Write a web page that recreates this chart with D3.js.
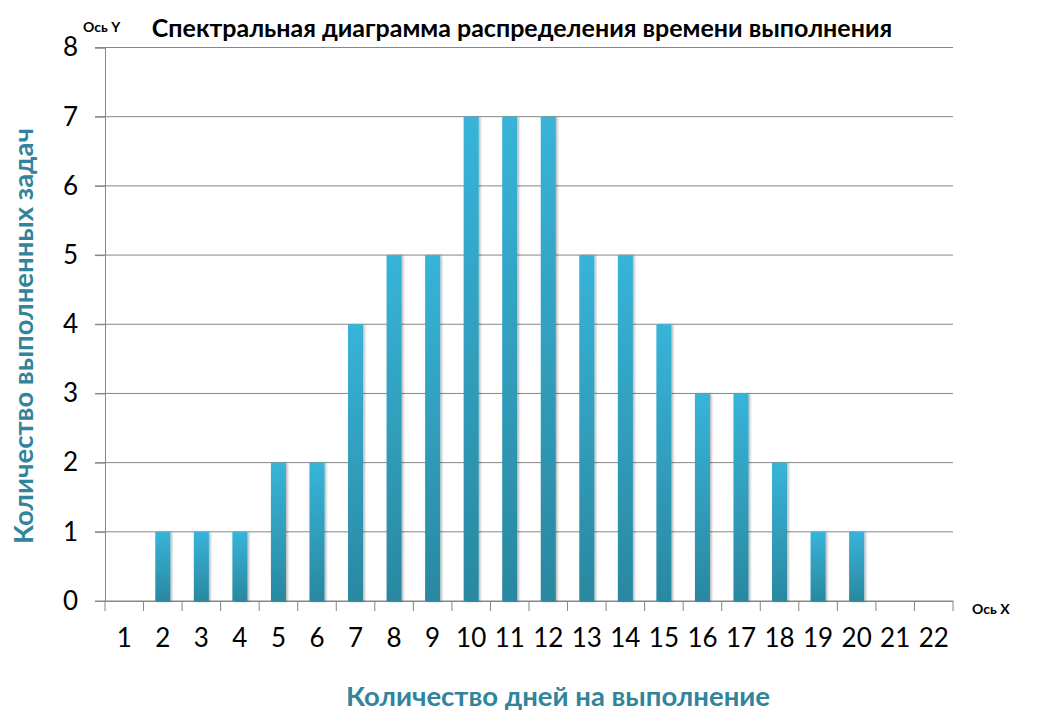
<!DOCTYPE html>
<html>
<head>
<meta charset="utf-8">
<script src="https://cdn.jsdelivr.net/npm/d3@7"></script>
<style>
  body { margin: 0; background: #fff; }
  svg { font-family: Lato, "Open Sans", sans-serif; }
</style>
</head>
<body>
<div id="chart"></div>
<script>
// --- Data ---
const days = ["1","2","3","4","5","6","7","8","9","10","11","12","13","14","15","16","17","18","19","20","21","22"];
const tasks = [0, 1, 1, 1, 2, 2, 4, 5, 5, 7, 7, 7, 5, 5, 4, 3, 3, 2, 1, 1, 0, 0];
const yTicks = [0, 1, 2, 3, 4, 5, 6, 7, 8];

const width = 1040, height = 725;
const margin = { top: 47.5, right: 87, bottom: 124, left: 105 };
const innerW = width - margin.left - margin.right,
      innerH = height - margin.top - margin.bottom;

const svg = d3.select("#chart").append("svg")
    .attr("width", width)
    .attr("height", height);

const defs = svg.append("defs");
const grad = defs.append("linearGradient")
    .attr("id", "barGrad")
    .attr("x1", 0).attr("y1", 0).attr("x2", 0).attr("y2", 1);
grad.append("stop").attr("offset", "0%").attr("stop-color", "#37b4d9");
grad.append("stop").attr("offset", "100%").attr("stop-color", "#2a88a0");

const shadow = defs.append("filter").attr("id", "shadow")
    .attr("x", "-30%").attr("y", "-5%").attr("width", "160%").attr("height", "110%");
shadow.append("feDropShadow")
    .attr("dx", 1.5).attr("dy", 0.5).attr("stdDeviation", 1.2)
    .attr("flood-color", "#000").attr("flood-opacity", 0.3);

const g = svg.append("g")
    .attr("transform", `translate(${margin.left},${margin.top})`);

// Scales
const x = d3.scaleBand()
    .domain(days)
    .range([0, innerW])
    .paddingInner(0.61)
    .paddingOuter(0.305);

const y = d3.scaleLinear()
    .domain([0, 8])
    .range([innerH, 0]);

// Gridlines
g.append("g")
    .selectAll("line")
    .data(yTicks)
    .enter().append("line")
    .attr("x1", -10)
    .attr("x2", innerW)
    .attr("y1", d => y(d))
    .attr("y2", d => y(d))
    .attr("stroke", "#868686")
    .attr("stroke-width", 1);

// Y axis
const yAxis = g.append("g")
    .call(d3.axisLeft(y).tickValues(yTicks).tickSize(10).tickPadding(17));
yAxis.select(".domain").attr("stroke", "#868686");
yAxis.selectAll(".tick line").attr("stroke", "#868686");
yAxis.selectAll(".tick text")
    .attr("font-size", "26px")
    .attr("fill", "#000")
    .attr("font-family", "Lato, sans-serif");

// X axis (ticks on band boundaries)
const xAxis = g.append("g")
    .attr("transform", `translate(0,${innerH})`)
    .call(d3.axisBottom(x).tickSize(0).tickPadding(28));
xAxis.select(".domain").attr("stroke", "#868686");
xAxis.selectAll(".tick text")
    .attr("font-size", "26px")
    .attr("fill", "#000")
    .attr("font-family", "Lato, sans-serif");

const step = x.step();
g.append("g")
    .selectAll("line")
    .data(d3.range(days.length + 1))
    .enter().append("line")
    .attr("x1", i => i * step)
    .attr("x2", i => i * step)
    .attr("y1", innerH)
    .attr("y2", innerH + 10)
    .attr("stroke", "#868686");

// Bars
g.append("g")
    .selectAll("rect")
    .data(days.map((d, i) => ({ day: d, value: tasks[i] })).filter(d => d.value > 0))
    .enter().append("rect")
    .attr("x", d => x(d.day))
    .attr("y", d => y(d.value))
    .attr("width", x.bandwidth())
    .attr("height", d => innerH - y(d.value))
    .attr("fill", "url(#barGrad)")
    .attr("filter", "url(#shadow)");

// Title
svg.append("text")
    .attr("x", 522)
    .attr("y", 37)
    .attr("text-anchor", "middle")
    .attr("font-size", "25px")
    .attr("font-weight", "bold")
    .attr("fill", "#000")
    .text("Спектральная диаграмма распределения времени выполнения");

// Axis small labels
svg.append("text")
    .attr("x", 83)
    .attr("y", 32)
    .attr("font-size", "14px")
    .attr("font-weight", "bold")
    .text("Ось Y");

svg.append("text")
    .attr("x", 972)
    .attr("y", 614)
    .attr("font-size", "14px")
    .attr("font-weight", "bold")
    .text("Ось X");

// Axis titles
svg.append("text")
    .attr("x", 558)
    .attr("y", 706)
    .attr("text-anchor", "middle")
    .attr("font-size", "27.5px")
    .attr("font-weight", "bold")
    .attr("fill", "#31849b")
    .text("Количество дней на выполнение");

svg.append("text")
    .attr("transform", "rotate(-90)")
    .attr("x", -336)
    .attr("y", 33)
    .attr("text-anchor", "middle")
    .attr("font-size", "27.5px")
    .attr("font-weight", "bold")
    .attr("fill", "#31849b")
    .text("Количество выполненных задач");
</script>
</body>
</html>
